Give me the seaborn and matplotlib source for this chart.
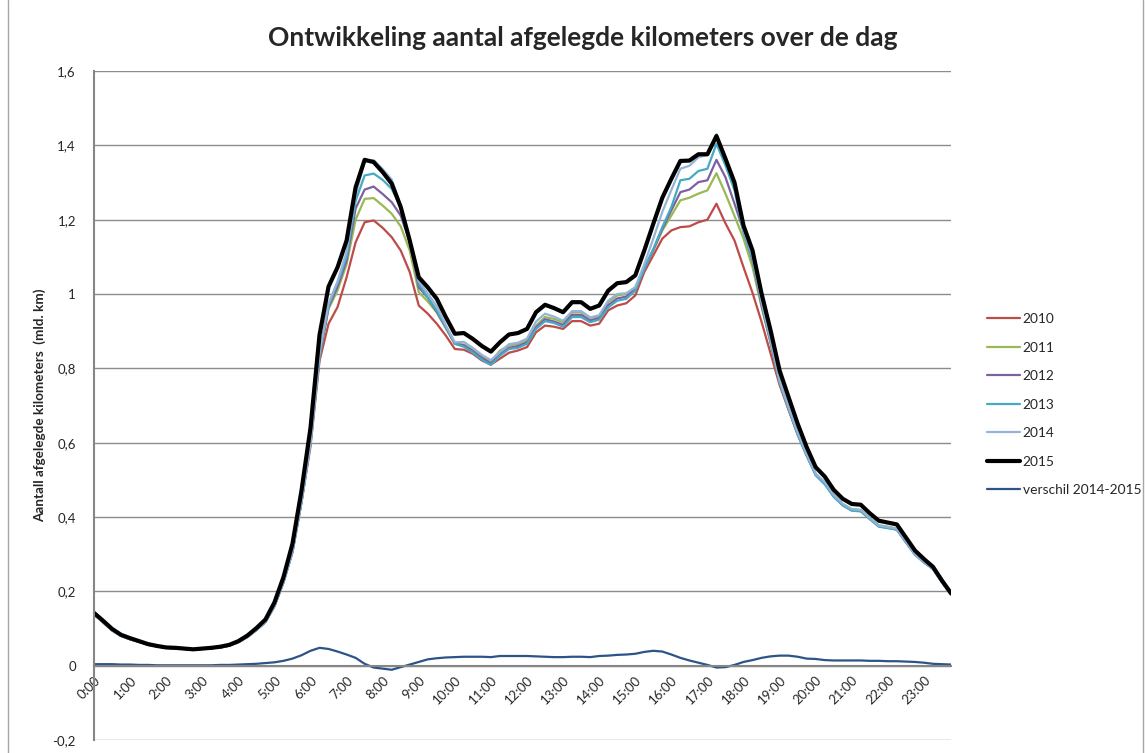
import matplotlib
matplotlib.use("Agg")
import matplotlib.pyplot as plt
from matplotlib.lines import Line2D
import numpy as np
import pandas as pd
import seaborn as sns

# hourly tick labels (every 4th quarter)
uren = ["0:00", "1:00", "2:00", "3:00", "4:00", "5:00", "6:00", "7:00", "8:00",
        "9:00", "10:00", "11:00", "12:00", "13:00", "14:00", "15:00", "16:00",
        "17:00", "18:00", "19:00", "20:00", "21:00", "22:00", "23:00"]
kwartier = [f"{h}:{m:02d}" for h in range(24) for m in (0, 15, 30, 45)]

y2015 = [0.142, 0.121, 0.099, 0.083, 0.074, 0.066, 0.058, 0.053, 0.049, 0.048, 0.046, 0.044,
         0.046, 0.048, 0.051, 0.056, 0.066, 0.081, 0.101, 0.124, 0.170, 0.238, 0.328, 0.471,
         0.640, 0.890, 1.020, 1.072, 1.144, 1.287, 1.361, 1.355, 1.328, 1.297, 1.234, 1.144,
         1.045, 1.018, 0.987, 0.938, 0.893, 0.895, 0.879, 0.860, 0.845, 0.870, 0.891, 0.895,
         0.906, 0.951, 0.971, 0.962, 0.951, 0.978, 0.978, 0.960, 0.969, 1.009, 1.029, 1.032,
         1.050, 1.117, 1.189, 1.259, 1.310, 1.358, 1.359, 1.376, 1.376, 1.425, 1.364, 1.300,
         1.184, 1.117, 1.001, 0.902, 0.794, 0.722, 0.651, 0.588, 0.534, 0.509, 0.473, 0.449,
         0.435, 0.433, 0.410, 0.390, 0.385, 0.380, 0.345, 0.310, 0.287, 0.266, 0.229, 0.195]

y2014 = [0.138, 0.117, 0.095, 0.080, 0.071, 0.064, 0.056, 0.052, 0.048, 0.047, 0.045, 0.043,
         0.045, 0.047, 0.049, 0.054, 0.063, 0.077, 0.096, 0.117, 0.161, 0.225, 0.309, 0.443,
         0.600, 0.842, 0.975, 1.034, 1.114, 1.266, 1.356, 1.360, 1.336, 1.308, 1.238, 1.141,
         1.035, 1.001, 0.967, 0.916, 0.870, 0.871, 0.855, 0.836, 0.822, 0.844, 0.865, 0.869,
         0.880, 0.926, 0.947, 0.939, 0.928, 0.954, 0.954, 0.937, 0.943, 0.982, 1.000, 1.002,
         1.018, 1.080, 1.149, 1.221, 1.280, 1.337, 1.345, 1.368, 1.374, 1.430, 1.368, 1.298,
         1.174, 1.102, 0.980, 0.877, 0.767, 0.695, 0.627, 0.569, 0.516, 0.494, 0.459, 0.435,
         0.421, 0.419, 0.397, 0.377, 0.373, 0.368, 0.334, 0.300, 0.279, 0.261, 0.225, 0.192]

y2013 = [0.138, 0.117, 0.095, 0.080, 0.071, 0.064, 0.056, 0.052, 0.048, 0.047, 0.045, 0.043,
         0.045, 0.047, 0.049, 0.054, 0.063, 0.077, 0.096, 0.117, 0.160, 0.224, 0.307, 0.440,
         0.600, 0.835, 0.970, 1.030, 1.100, 1.250, 1.319, 1.324, 1.307, 1.283, 1.234, 1.148,
         1.027, 0.991, 0.956, 0.911, 0.866, 0.858, 0.842, 0.823, 0.809, 0.834, 0.852, 0.855,
         0.866, 0.906, 0.927, 0.922, 0.912, 0.938, 0.938, 0.924, 0.931, 0.964, 0.982, 0.987,
         1.009, 1.068, 1.121, 1.180, 1.234, 1.306, 1.310, 1.331, 1.337, 1.404, 1.346, 1.279,
         1.165, 1.095, 0.975, 0.872, 0.763, 0.690, 0.622, 0.565, 0.512, 0.488, 0.454, 0.431,
         0.417, 0.415, 0.394, 0.374, 0.370, 0.366, 0.332, 0.299, 0.278, 0.260, 0.224, 0.191]

y2012 = [0.138, 0.117, 0.095, 0.080, 0.071, 0.064, 0.056, 0.052, 0.048, 0.047, 0.045, 0.043,
         0.045, 0.047, 0.049, 0.054, 0.063, 0.077, 0.096, 0.117, 0.160, 0.224, 0.307, 0.440,
         0.600, 0.830, 0.965, 1.020, 1.090, 1.230, 1.281, 1.289, 1.269, 1.247, 1.211, 1.140,
         1.018, 0.990, 0.952, 0.910, 0.866, 0.862, 0.846, 0.828, 0.813, 0.838, 0.855, 0.860,
         0.870, 0.910, 0.932, 0.926, 0.917, 0.944, 0.944, 0.929, 0.935, 0.970, 0.988, 0.993,
         1.013, 1.068, 1.119, 1.175, 1.225, 1.274, 1.281, 1.301, 1.306, 1.361, 1.314, 1.243,
         1.170, 1.090, 0.970, 0.870, 0.763, 0.690, 0.623, 0.566, 0.514, 0.490, 0.456, 0.432,
         0.418, 0.416, 0.395, 0.375, 0.371, 0.366, 0.332, 0.299, 0.278, 0.260, 0.224, 0.191]

y2011 = [0.138, 0.117, 0.095, 0.080, 0.071, 0.064, 0.056, 0.052, 0.048, 0.047, 0.045, 0.043,
         0.045, 0.047, 0.049, 0.054, 0.063, 0.077, 0.096, 0.117, 0.160, 0.224, 0.307, 0.440,
         0.600, 0.830, 0.960, 1.010, 1.080, 1.200, 1.256, 1.258, 1.238, 1.216, 1.182, 1.117,
         1.005, 0.980, 0.950, 0.908, 0.866, 0.864, 0.850, 0.832, 0.817, 0.848, 0.861, 0.866,
         0.875, 0.915, 0.938, 0.933, 0.924, 0.951, 0.951, 0.936, 0.939, 0.978, 0.996, 1.000,
         1.018, 1.068, 1.117, 1.171, 1.211, 1.252, 1.259, 1.270, 1.279, 1.325, 1.270, 1.210,
         1.149, 1.072, 0.965, 0.868, 0.762, 0.690, 0.624, 0.567, 0.516, 0.493, 0.459, 0.435,
         0.421, 0.419, 0.397, 0.378, 0.374, 0.369, 0.334, 0.300, 0.279, 0.261, 0.225, 0.192]

y2010 = [0.138, 0.117, 0.095, 0.080, 0.071, 0.064, 0.056, 0.052, 0.048, 0.047, 0.045, 0.043,
         0.045, 0.047, 0.049, 0.054, 0.063, 0.077, 0.096, 0.117, 0.160, 0.224, 0.305, 0.440,
         0.590, 0.820, 0.920, 0.965, 1.045, 1.139, 1.193, 1.198, 1.178, 1.153, 1.117, 1.059,
         0.969, 0.947, 0.920, 0.888, 0.852, 0.850, 0.839, 0.821, 0.810, 0.826, 0.842, 0.848,
         0.857, 0.897, 0.915, 0.912, 0.906, 0.927, 0.927, 0.915, 0.920, 0.956, 0.969, 0.975,
         0.996, 1.059, 1.104, 1.149, 1.171, 1.180, 1.182, 1.193, 1.200, 1.243, 1.190, 1.144,
         1.072, 1.003, 0.925, 0.840, 0.755, 0.688, 0.622, 0.566, 0.515, 0.492, 0.458, 0.434,
         0.420, 0.418, 0.396, 0.376, 0.372, 0.367, 0.333, 0.300, 0.279, 0.261, 0.225, 0.192]

verschil = [0.004, 0.004, 0.004, 0.003, 0.003, 0.002, 0.002, 0.001, 0.001, 0.001, 0.001, 0.001,
            0.001, 0.001, 0.002, 0.002, 0.003, 0.004, 0.005, 0.007, 0.009, 0.013, 0.019, 0.028,
            0.040, 0.048, 0.045, 0.038, 0.030, 0.021, 0.005, -0.005, -0.008, -0.011, -0.004, 0.003,
            0.010, 0.017, 0.020, 0.022, 0.023, 0.024, 0.024, 0.024, 0.023, 0.026, 0.026, 0.026,
            0.026, 0.025, 0.024, 0.023, 0.023, 0.024, 0.024, 0.023, 0.026, 0.027, 0.029, 0.030,
            0.032, 0.037, 0.040, 0.038, 0.030, 0.021, 0.014, 0.008, 0.002, -0.005, -0.004, 0.002,
            0.010, 0.015, 0.021, 0.025, 0.027, 0.027, 0.024, 0.019, 0.018, 0.015, 0.014, 0.014,
            0.014, 0.014, 0.013, 0.013, 0.012, 0.012, 0.011, 0.010, 0.008, 0.005, 0.004, 0.003]

yticks = [-0.2, 0, 0.2, 0.4, 0.6, 0.8, 1, 1.2, 1.4, 1.6]
ylabels = ["-0,2", "0", "0,2", "0,4", "0,6", "0,8", "1", "1,2", "1,4", "1,6"]

series = [
    ("2010", y2010, "#BE4B48", 1.6),
    ("2011", y2011, "#98B954", 1.6),
    ("2012", y2012, "#7D60A0", 1.6),
    ("2013", y2013, "#46AAC5", 1.6),
    ("2014", y2014, "#95B3D7", 1.6),
    ("2015", y2015, "#000000", 3.0),
    ("verschil 2014-2015", verschil, "#2C5489", 1.6),
]

sns.set_style("white")
plt.rcParams["font.family"] = ["Lato", "DejaVu Sans"]

fig = plt.figure(figsize=(11.45, 7.53), dpi=100)
ax = fig.add_axes([94 / 1145, 1 - 740 / 753, (951 - 94) / 1145, (740 - 71) / 753])

pos = np.arange(len(kwartier))
df = pd.DataFrame({"pos": pos, "kwartier": kwartier})
for name, vals, color, lw in series:
    df[name] = vals
    sns.lineplot(data=df, x="pos", y=name, color=color, linewidth=lw, ax=ax,
                 label=name, legend=False)

# axis at y=0 first, spine repositioning resets tick settings
for s in ["top", "right"]:
    ax.spines[s].set_visible(False)
ax.spines["bottom"].set_position(("data", 0))
ax.spines["bottom"].set_color("#868686")
ax.spines["bottom"].set_linewidth(1.5)
ax.spines["left"].set_color("#868686")
ax.spines["left"].set_linewidth(1.5)

ax.set_xlim(0, len(kwartier) - 1)
ax.set_ylim(-0.2, 1.6)
ax.set_yticks(yticks)
ax.set_yticklabels(ylabels, fontsize=9.5)
ax.set_xticks(pos[::4])
ax.set_xticklabels(uren, rotation=45, ha="right", rotation_mode="anchor", fontsize=9.5)
ax.tick_params(axis="x", length=0, pad=6)
ax.tick_params(axis="y", length=5, width=1, color="#868686", direction="out", pad=8)
ax.set_xlabel("")
ax.set_ylabel("Aantall afgelegde kilometers  (mld. km)", fontsize=9.7,
              fontweight="bold", labelpad=5)

ax.grid(axis="y", color="#8C8C8C", linewidth=1)
ax.grid(axis="x", visible=False)
ax.set_axisbelow(True)

fig.text(583 / 1145, 1 - 38 / 753, "Ontwikkeling aantal afgelegde kilometers over de dag",
         ha="center", va="center", fontsize=19, fontweight="bold")

handles = [Line2D([], [], color=c, linewidth=lw) for _, _, c, lw in series]
fig.legend(handles, [s[0] for s in series], loc="upper left",
           bbox_to_anchor=(987 / 1145, 1 - 313 / 753), frameon=False, fontsize=9.9,
           handlelength=2.4, handletextpad=0.2, labelspacing=1.2,
           borderpad=0, borderaxespad=0)

# chart area border
for xb in (8 / 1145, 1143 / 1145):
    fig.add_artist(Line2D([xb, xb], [0, 1], transform=fig.transFigure,
                          color="#A6A6A6", linewidth=1))

fig.savefig("out.png", dpi=100)
